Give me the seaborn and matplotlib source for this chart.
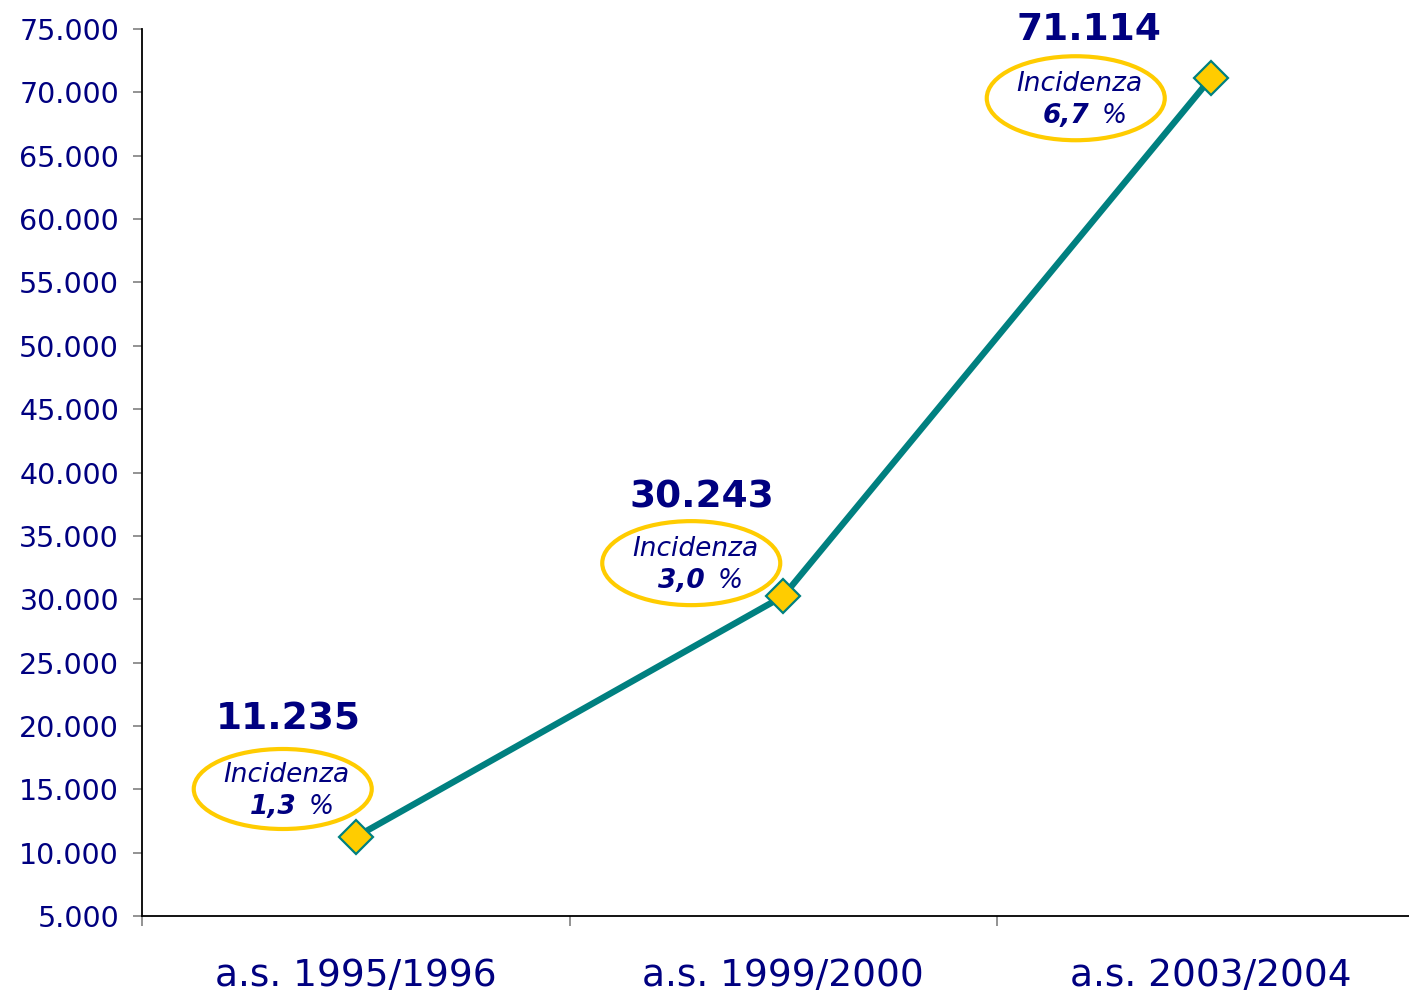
import pandas as pd
import matplotlib.pyplot as plt
import seaborn as sns
from matplotlib.patches import Ellipse
from matplotlib.transforms import IdentityTransform, ScaledTranslation

# Data
years = ['a.s. 1995/1996', 'a.s. 1999/2000', 'a.s. 2003/2004']
students = [11235, 30243, 71114]
value_labels = ['11.235', '30.243', '71.114']
incidence = ['1,3', '3,0', '6,7']

df = pd.DataFrame({'pos': range(len(years)), 'students': students})

navy = '#000080'
teal = '#008080'
gold = '#FFCC00'

sns.set_style('white')
plt.rcParams['font.family'] = ['DejaVu Sans']

fig = plt.figure(figsize=(14.09, 9.94), dpi=100)
ax = fig.add_axes([142 / 1409, 1 - 916 / 994, 1 - 142 / 1409, (916 - 29) / 994])

sns.lineplot(data=df, x='pos', y='students', ax=ax, color=teal, linewidth=4.6,
             marker='D', markersize=17, markerfacecolor=gold,
             markeredgecolor=teal, markeredgewidth=1.6, zorder=3)

ax.set_yticks(range(5000, 75001, 5000))
ax.set_yticklabels([f'{v:,}'.replace(',', '.') for v in range(5000, 75001, 5000)])
ax.set_xticks(df['pos'])
ax.set_xticklabels(years)
ax.set_xticks([-0.5, 0.5, 1.5, 2.5], minor=True)
ax.set_ylim(5000, 75000)
ax.set_xlim(-0.5, -0.5 + (1409 - 142) / 427.5)
ax.set_xlabel('')
ax.set_ylabel('')

ax.tick_params(axis='y', which='major', length=6.5, width=1.2, color='#808080',
               direction='out', left=True, labelsize=20.5, labelcolor=navy, pad=10)
ax.tick_params(axis='x', which='major', length=0, labelsize=27, labelcolor=navy, pad=30)
ax.tick_params(axis='x', which='minor', length=7, width=1.2, color='#808080',
               direction='out', bottom=True)

for side in ['top', 'right']:
    ax.spines[side].set_visible(False)
for side in ['left', 'bottom']:
    ax.spines[side].set_color('black')
    ax.spines[side].set_linewidth(1.3)

# offsets in pixels relative to each point
value_off = [(-67, 117), (-81, 99), (-122, 48)]
ell_off = [(-73, 48), (-92, 33), (-135, -20)]
ell_size = [(178, 80), (178, 84), (178, 84)]

for i in range(len(years)):
    x, y = df['pos'][i], df['students'][i]
    ax.annotate(value_labels[i], (x, y), xytext=value_off[i], textcoords='offset pixels',
                ha='center', va='center', fontsize=27, fontweight='bold', color=navy)
    ex, ey = ell_off[i]
    tr = IdentityTransform() + ScaledTranslation(x, y, ax.transData)
    ax.add_patch(Ellipse((ex, ey), ell_size[i][0], ell_size[i][1], transform=tr,
                         facecolor='none', edgecolor=gold, linewidth=3, zorder=2,
                         clip_on=False))
    ax.annotate('Incidenza', (x, y), xytext=(ex + 4, ey + 14), textcoords='offset pixels',
                ha='center', va='center', fontsize=19, fontstyle='italic', color=navy)
    ax.annotate(incidence[i], (x, y), xytext=(ex + 14, ey - 18),
                textcoords='offset pixels', ha='right', va='center', fontsize=19,
                fontstyle='italic', fontweight='bold', color=navy)
    ax.annotate('%', (x, y), xytext=(ex + 26, ey - 18),
                textcoords='offset pixels', ha='left', va='center', fontsize=19,
                fontstyle='italic', color=navy)

fig.savefig('out.png', dpi=100)
